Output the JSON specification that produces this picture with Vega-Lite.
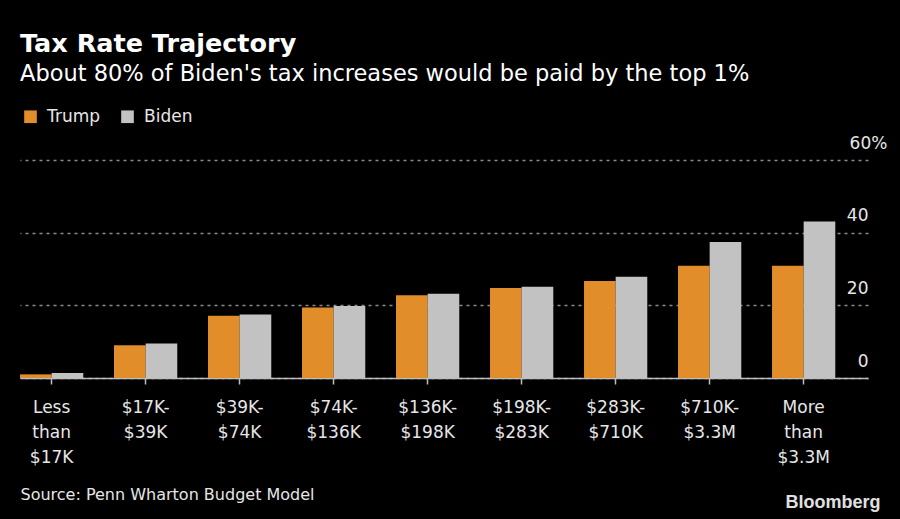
{
  "$schema": "https://vega.github.io/schema/vega-lite/v6.json",
  "autosize": {"type": "none"},
  "width": 848,
  "height": 218,
  "padding": {"left": 20, "top": 160, "right": 32, "bottom": 141},
  "background": "#000000",
  "config": {
    "view": {"stroke": null},
    "font": "DejaVu Sans"
  },
  "title": {
    "text": "Tax Rate Trajectory",
    "subtitle": "About 80% of Biden's tax increases would be paid by the top 1%",
    "anchor": "start",
    "frame": "group",
    "orient": "top",
    "offset": 23,
    "color": "#ffffff",
    "subtitleColor": "#ffffff",
    "font": "DejaVu Sans",
    "subtitleFont": "DejaVu Sans",
    "fontSize": 25.5,
    "fontWeight": "bold",
    "subtitleFontSize": 22.5,
    "subtitlePadding": 5
  },
  "data": {
    "values": [
      {"bracket": "Less|than|$17K", "candidate": "Trump", "rate": 1.0},
      {"bracket": "Less|than|$17K", "candidate": "Biden", "rate": 1.4},
      {"bracket": "$17K-|$39K", "candidate": "Trump", "rate": 9.0},
      {"bracket": "$17K-|$39K", "candidate": "Biden", "rate": 9.5},
      {"bracket": "$39K-|$74K", "candidate": "Trump", "rate": 17.1},
      {"bracket": "$39K-|$74K", "candidate": "Biden", "rate": 17.5},
      {"bracket": "$74K-|$136K", "candidate": "Trump", "rate": 19.4},
      {"bracket": "$74K-|$136K", "candidate": "Biden", "rate": 19.8},
      {"bracket": "$136K-|$198K", "candidate": "Trump", "rate": 22.8},
      {"bracket": "$136K-|$198K", "candidate": "Biden", "rate": 23.2},
      {"bracket": "$198K-|$283K", "candidate": "Trump", "rate": 24.8},
      {"bracket": "$198K-|$283K", "candidate": "Biden", "rate": 25.1},
      {"bracket": "$283K-|$710K", "candidate": "Trump", "rate": 26.7},
      {"bracket": "$283K-|$710K", "candidate": "Biden", "rate": 27.9},
      {"bracket": "$710K-|$3.3M", "candidate": "Trump", "rate": 30.9},
      {"bracket": "$710K-|$3.3M", "candidate": "Biden", "rate": 37.4},
      {"bracket": "More|than|$3.3M", "candidate": "Trump", "rate": 30.9},
      {"bracket": "More|than|$3.3M", "candidate": "Biden", "rate": 43.1}
    ]
  },
  "mark": {"type": "bar"},
  "encoding": {
    "x": {
      "field": "bracket",
      "type": "nominal",
      "sort": null,
      "scale": {"paddingInner": 0.327, "paddingOuter": 0.174, "align": 0},
      "axis": {
        "title": "Source: Penn Wharton Budget Model",
        "titleColor": "#e6e6e6",
        "titleFont": "DejaVu Sans",
        "titleFontSize": 16,
        "titleFontWeight": "normal",
        "titleAnchor": "start",
        "titleAlign": "left",
        "titleBaseline": "alphabetic",
        "titleX": 0,
        "titleY": 121,
        "labelExpr": "split(datum.label, '|')",
        "labelAngle": 0,
        "labelColor": "#e6e6e6",
        "labelFont": "DejaVu Sans",
        "labelFontSize": 17,
        "labelLineHeight": 25,
        "labelPadding": 15,
        "labelBaseline": "top",
        "domainColor": "#bdbdbd",
        "domainWidth": 1.5,
        "tickColor": "#bdbdbd",
        "tickSize": 6,
        "tickWidth": 1.5,
        "grid": false
      }
    },
    "xOffset": {
      "field": "candidate",
      "type": "nominal",
      "sort": ["Trump", "Biden"],
      "scale": {"paddingInner": 0, "paddingOuter": 0}
    },
    "y": {
      "field": "rate",
      "type": "quantitative",
      "scale": {"domain": [0, 60], "nice": false},
      "axis": {
        "orient": "right",
        "values": [0, 20, 40, 60],
        "title": "Bloomberg",
        "titleAngle": 0,
        "titleColor": "#e0e0e0",
        "titleFont": "Liberation Sans",
        "titleFontSize": 18,
        "titleFontWeight": "bold",
        "titleAlign": "right",
        "titleBaseline": "alphabetic",
        "titleX": 12,
        "titleY": 347,
        "labelExpr": "datum.value == 60 ? '60%' : datum.label",
        "labelAlign": {"condition": {"test": "datum.value == 60", "value": "center"}, "value": "right"},
        "labelBaseline": "alphabetic",
        "labelOffset": -12,
        "labelPadding": 0,
        "labelColor": "#e6e6e6",
        "labelFont": "DejaVu Sans",
        "labelFontSize": 17,
        "ticks": false,
        "domain": false,
        "grid": true,
        "gridColor": "#8a8a8a",
        "gridDash": [3, 4],
        "gridWidth": 1.5
      }
    },
    "color": {
      "field": "candidate",
      "type": "nominal",
      "sort": ["Trump", "Biden"],
      "scale": {"domain": ["Trump", "Biden"], "range": ["#E08D2A", "#C2C2C2"]},
      "legend": {
        "orient": "none",
        "legendX": 2,
        "legendY": -52,
        "direction": "horizontal",
        "title": null,
        "symbolType": "square",
        "symbolSize": 160,
        "symbolStrokeWidth": 0,
        "symbolOpacity": 1,
        "labelColor": "#e6e6e6",
        "labelFont": "DejaVu Sans",
        "labelFontSize": 17,
        "labelOffset": 8,
        "columnPadding": 18
      }
    }
  }
}
